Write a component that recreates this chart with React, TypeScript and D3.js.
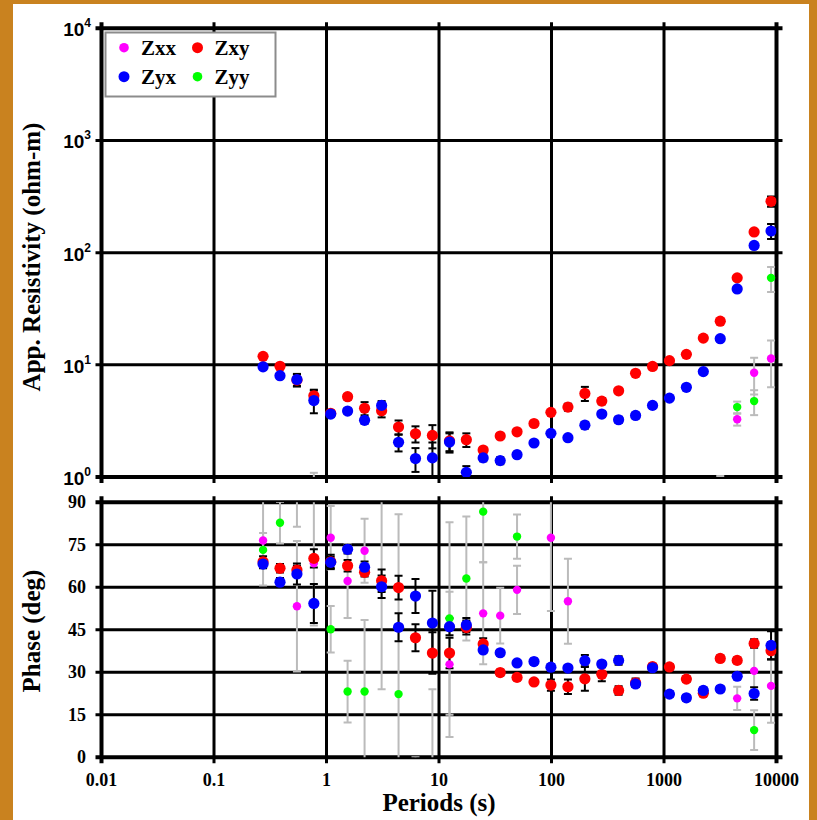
import React from "react";
import * as d3 from "d3";

// ---------- DATA ----------
const periods = [0.273, 0.386, 0.546, 0.772, 1.09, 1.54, 2.18, 3.09, 4.37, 6.18, 8.74, 12.4, 17.5, 24.7, 35.0, 49.4, 69.9, 98.8, 140, 198, 280, 395, 559, 791, 1118, 1581, 2236, 3162, 4472, 6325, 8944];

const rhoZxy = [11.9, 9.7, 7.3, 5.3, 3.7, 5.2, 4.1, 3.9, 2.79, 2.43, 2.35, 2.1, 2.15, 1.74, 2.32, 2.53, 3.0, 3.77, 4.2, 5.56, 4.75, 5.87, 8.4, 9.67, 10.9, 12.4, 17.3, 24.5, 59.6, 153, 287];
const rhoZxyErr = [0.3, 0.3, 0.9, 0.7, 0.2, 0.3, 0.55, 0.5, 0.4, 0.4, 0.55, 0.4, 0.3, 0.1, 0.1, 0.1, 0.1, 0.15, 0.3, 0.8, 0.3, 0.2, 0.3, 0.3, 0.3, 0.4, 0.5, 0.8, 2, 5, 30];
const rhoZyx = [9.6, 8.0, 7.4, 4.8, 3.64, 3.87, 3.2, 4.35, 2.04, 1.46, 1.48, 2.05, 1.1, 1.48, 1.4, 1.58, 2.01, 2.45, 2.24, 2.9, 3.64, 3.24, 3.54, 4.35, 5.05, 6.3, 8.7, 17.1, 47.5, 116, 156];
const rhoZyxErr = [0.3, 0.3, 0.9, 1.1, 0.2, 0.2, 0.2, 0.4, 0.35, 0.35, 0.55, 0.4, 0.15, 0.1, 0.1, 0.1, 0.1, 0.1, 0.1, 0.2, 0.2, 0.2, 0.2, 0.2, 0.2, 0.3, 0.4, 0.8, 2, 4, 24];
const rhoZxx = [null, null, null, 0.6, null, null, null, null, null, null, null, null, null, null, null, null, null, null, null, null, null, null, null, null, null, null, null, 0.6, 3.27, 8.5, 11.4];
const rhoZxxErr = [0, 0, 0, 0.49, 0, 0, 0, 0, 0, 0, 0, 0, 0, 0, 0, 0, 0, 0, 0, 0, 0, 0, 0, 0, 0, 0, 0, 0.42, 0.4, 3.06, 5.1];
const rhoZyy = [null, null, null, null, null, null, null, null, null, null, null, null, null, null, null, null, null, null, null, null, null, null, null, null, null, null, null, null, 4.2, 4.75, 59.6];
const rhoZyyErr = [0, 0, 0, 0, 0, 0, 0, 0, 0, 0, 0, 0, 0, 0, 0, 0, 0, 0, 0, 0, 0, 0, 0, 0, 0, 0, 0, 0, 0.5, 1.19, 15];

const phZxy = [69.0, 66.7, 66.1, 70.2, 69.0, 67.6, 65.3, 62.3, 59.9, 42.2, 36.8, 36.8, 45.8, 40.0, 29.9, 28.2, 26.6, 25.5, 24.9, 27.7, 29.3, 23.6, 26.3, 32.0, 31.9, 27.6, 22.6, 34.9, 34.2, 40.2, 37.6];
const phZxyErr = [2, 1.5, 1.5, 3.2, 2.5, 2, 1.5, 4, 4.2, 4.8, 7.3, 5.4, 2.5, 2, 1, 1, 1, 2, 2.6, 4.2, 2.5, 1.5, 1.5, 1, 1, 1, 1, 1, 1, 1.5, 3];
const phZyx = [68.2, 61.8, 64.7, 54.3, 68.8, 73.4, 67.1, 60.2, 45.9, 56.9, 47.4, 46.1, 46.7, 37.9, 36.9, 33.3, 33.8, 31.8, 31.5, 34.1, 32.9, 34.2, 25.9, 31.6, 22.3, 21.0, 23.6, 24.1, 28.6, 22.5, 39.5];
const phZyxErr = [1.5, 1.5, 3.7, 6.9, 2, 1.5, 2, 4, 4.9, 6, 11.4, 3, 2.5, 1, 1, 1, 1, 1, 1, 2, 1, 1.5, 1, 1, 1, 1, 1, 1, 1, 2.2, 5];
const phZxx = [76.5, null, 53.3, 68.5, 77.5, 62.2, 72.9, 61, null, null, null, 32.8, null, 50.8, 50, 59.1, null, 77.5, 55.1, null, null, null, null, null, null, null, null, null, 20.8, 30.5, 25.2];
const phZxxErr = [15.9, 0, 23, 22, 11.2, 13, 11.3, 37, 0, 0, 0, 25.6, 0, 18, 9.8, 8.5, 0, 25.9, 15, 0, 0, 0, 0, 0, 0, 0, 0, 0, 4.1, 9, 13];
const phZyy = [73.2, 82.8, 95, null, 45.2, 23.2, 23.2, null, 22.3, -10, -3, 49, 63.1, 86.7, null, 77.9, null, null, null, null, null, null, null, null, null, null, null, null, null, 9.6, null];
const phZyyErr = [6, 7.3, 13.6, 0, 8.2, 10.9, 25.3, 0, 63.5, 10, 27, 34, 21.9, 17.9, 0, 7.8, 0, 0, 0, 0, 0, 0, 0, 0, 0, 0, 0, 0, 0, 7, 0];

const xTicks = [0.01, 0.1, 1, 10, 100, 1000, 10000];
const xTickLabels = ["0.01", "0.1", "1", "10", "100", "1000", "10000"];
const rhoTicks = [1, 10, 100, 1000, 10000];
const rhoExp = ["0", "1", "2", "3", "4"];
const phTicks = [0, 15, 30, 45, 60, 75, 90];

const legendOrder = ["Zxx", "Zxy", "Zyx", "Zyy"];

// ---------- STYLE ----------
const W = 817;
const H = 820;
const L = 101.5, R = 776.5;
const T1 = 28.3, B1 = 477;
const T2 = 502.3, B2 = 757.3;
const ORANGE = "#C9821F";
const COL: Record<string, string> = { Zxx: "#FF00FF", Zxy: "#FF0000", Zyx: "#0000FF", Zyy: "#00FF00" };
const SERIF = "'Liberation Serif', 'Times New Roman', serif";
const SANS = "'Liberation Sans', Arial, sans-serif";

const x = d3.scaleLog().domain([0.01, 10000]).range([L, R]);
const yR = d3.scaleLog().domain([1, 10000]).range([B1, T1]);
const yP = d3.scaleLinear().domain([0, 90]).range([B2, T2]);

type S = { name: string; vals: (number | null)[]; errs: number[]; r: number; err: string };

const rhoSeries: S[] = [
  { name: "Zxx", vals: rhoZxx, errs: rhoZxxErr, r: 4.2, err: "#BBBBBB" },
  { name: "Zyy", vals: rhoZyy, errs: rhoZyyErr, r: 4.2, err: "#BBBBBB" },
  { name: "Zxy", vals: rhoZxy, errs: rhoZxyErr, r: 5.6, err: "#000" },
  { name: "Zyx", vals: rhoZyx, errs: rhoZyxErr, r: 5.6, err: "#000" },
];
const phSeries: S[] = [
  { name: "Zxx", vals: phZxx, errs: phZxxErr, r: 4.2, err: "#BBBBBB" },
  { name: "Zyy", vals: phZyy, errs: phZyyErr, r: 4.2, err: "#BBBBBB" },
  { name: "Zxy", vals: phZxy, errs: phZxyErr, r: 5.6, err: "#000" },
  { name: "Zyx", vals: phZyx, errs: phZyxErr, r: 5.6, err: "#000" },
];

function ErrBars({ s, log }: { s: S; log: boolean }) {
  const y = log ? yR : yP;
  const out: React.ReactNode[] = [];
  s.vals.forEach((v, i) => {
    if (v === null || !s.errs[i]) return;
    const e = s.errs[i];
    const lo = log ? Math.max(v - e, 0.01) : v - e;
    const hi = v + e;
    const cx = x(periods[i]);
    const y1 = y(lo), y2 = y(hi);
    out.push(
      <g key={i} stroke={s.err} strokeWidth={2}>
        <line x1={cx} x2={cx} y1={y1} y2={y2} />
        <line x1={cx - 4} x2={cx + 4} y1={y1} y2={y1} />
        <line x1={cx - 4} x2={cx + 4} y1={y2} y2={y2} />
      </g>
    );
  });
  return <g>{out}</g>;
}

function Points({ s, log }: { s: S; log: boolean }) {
  const y = log ? yR : yP;
  return (
    <g fill={COL[s.name]}>
      {s.vals.map((v, i) =>
        v === null || (log && v <= 0) ? null : <circle key={i} cx={x(periods[i])} cy={y(v)} r={s.r} />
      )}
    </g>
  );
}

function Grid({ top, bottom, hVals }: { top: number; bottom: number; hVals: number[] }) {
  return (
    <g stroke="#000">
      {xTicks.map((t, i) => (
        <line key={"v" + i} x1={x(t)} x2={x(t)} y1={top - 6} y2={bottom + 6}
          strokeWidth={i === 0 || i === xTicks.length - 1 ? 4 : 3} />
      ))}
      {hVals.map((yy, i) => (
        <line key={"h" + i} x1={L - 6} x2={R + 6} y1={yy} y2={yy}
          strokeWidth={i === 0 || i === hVals.length - 1 ? 4 : 3} />
      ))}
    </g>
  );
}

export default function App() {
  return (
    <div style={{ position: "absolute", left: 0, top: 0 }}>
      <svg width={W} height={H} style={{ display: "block" }}>
        <defs>
          <clipPath id="c1"><rect x={L} y={T1} width={R - L} height={B1 - T1} /></clipPath>
          <clipPath id="c2"><rect x={L} y={T2} width={R - L} height={B2 - T2} /></clipPath>
        </defs>
        <rect x={0} y={0} width={W} height={H} fill={ORANGE} />
        <rect x={13} y={4} width={809 - 13} height={H - 4} fill="#fff" />

        {/* Top panel */}
        <Grid top={T1} bottom={B1} hVals={rhoTicks.map((t) => yR(t))} />
        <g clipPath="url(#c1)">
          {rhoSeries.map((s) => <ErrBars key={s.name} s={s} log={true} />)}
          {rhoSeries.map((s) => <Points key={s.name} s={s} log={true} />)}
        </g>

        {/* Bottom panel */}
        <Grid top={T2} bottom={B2} hVals={phTicks.map((t) => yP(t))} />
        <g clipPath="url(#c2)">
          {phSeries.map((s) => <ErrBars key={s.name} s={s} log={false} />)}
          {phSeries.map((s) => <Points key={s.name} s={s} log={false} />)}
        </g>

        {/* Y tick labels top */}
        {rhoTicks.map((t, i) => (
          <text key={i} x={91} y={yR(t) + 8} textAnchor="end" fontFamily={SANS} fontWeight="bold" fontSize={19} fill="#000">
            <tspan>10</tspan>
            <tspan dy={-9} fontSize={12}>{rhoExp[i]}</tspan>
          </text>
        ))}
        {/* Y tick labels bottom */}
        {phTicks.map((t, i) => (
          <text key={i} x={86} y={yP(t) + 6} textAnchor="end" fontFamily={SERIF} fontWeight="bold" fontSize={18} fill="#000">
            {String(t)}
          </text>
        ))}
        {/* X tick labels */}
        {xTicks.map((t, i) => (
          <text key={i} x={x(t)} y={786} textAnchor="middle" fontFamily={SERIF} fontWeight="bold" fontSize={18} fill="#000">
            {xTickLabels[i]}
          </text>
        ))}

        {/* Axis titles */}
        <text x={439} y={811} textAnchor="middle" fontFamily={SERIF} fontWeight="bold" fontSize={25} fill="#000">Periods (s)</text>
        <text transform={`translate(40,257) rotate(-90)`} textAnchor="middle" fontFamily={SERIF} fontWeight="bold" fontSize={25} fill="#000">App. Resistivity (ohm-m)</text>
        <text transform={`translate(40,631) rotate(-90)`} textAnchor="middle" fontFamily={SERIF} fontWeight="bold" fontSize={25} fill="#000">Phase (deg)</text>

        {/* Legend */}
        <g>
          <rect x={105.5} y={32.5} width={170} height={64} fill="#fff" stroke="#8c8c8c" strokeWidth={2} />
          {legendOrder.map((name, i) => {
            const col = i % 2;
            const row = Math.floor(i / 2);
            const cx = col === 0 ? 124 : 197.5;
            const cy = row === 0 ? 47.7 : 76.7;
            const r = name === "Zxx" || name === "Zyy" ? 4.8 : 5.5;
            return (
              <g key={name}>
                <circle cx={cx} cy={cy} r={r} fill={COL[name]} />
                <text x={cx + 17} y={cy + 7.5} fontFamily={SERIF} fontWeight="bold" fontSize={21} fill="#000">{name}</text>
              </g>
            );
          })}
        </g>
      </svg>
    </div>
  );
}
